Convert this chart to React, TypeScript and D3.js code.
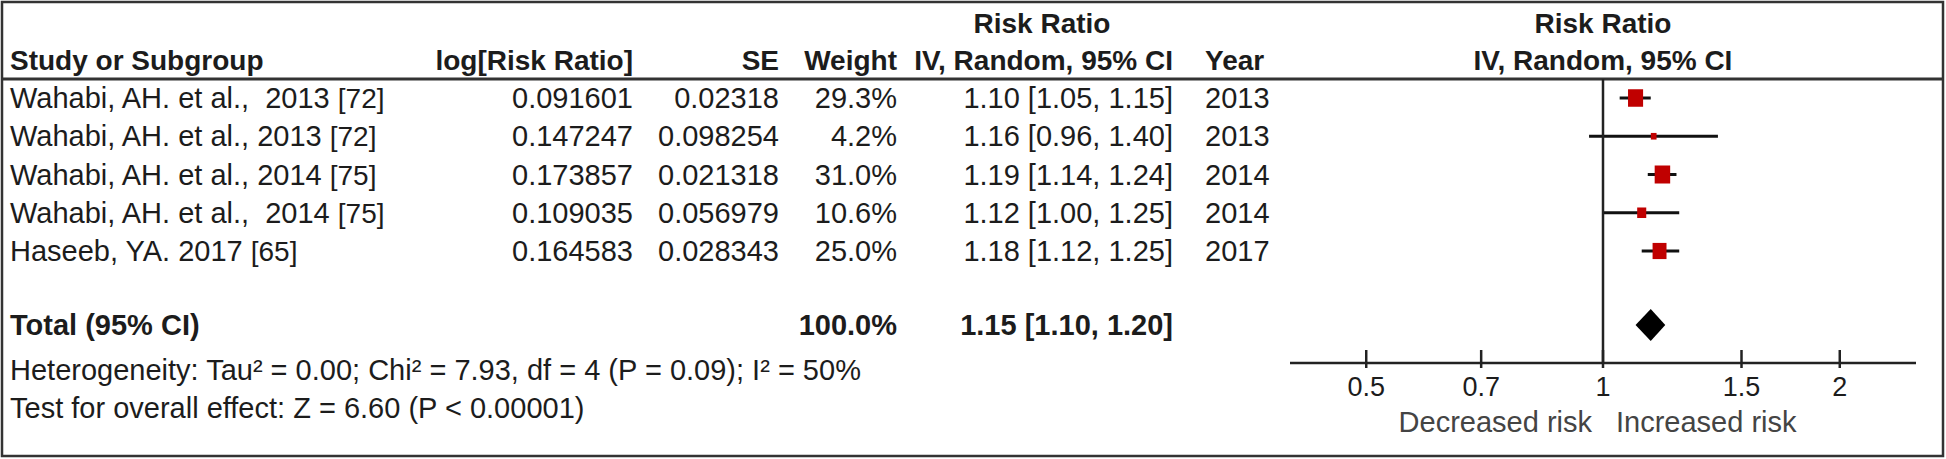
import React from 'react';
import * as d3 from 'd3';

// study rows
const studies = [
  'Wahabi, AH. et al.,  2013',
  'Wahabi, AH. et al., 2013',
  'Wahabi, AH. et al., 2014',
  'Wahabi, AH. et al.,  2014',
  'Haseeb, YA. 2017',
];
const refs = ['[72]', '[72]', '[75]', '[75]', '[65]'];
const logRR = ['0.091601', '0.147247', '0.173857', '0.109035', '0.164583'];
const seVals = ['0.02318', '0.098254', '0.021318', '0.056979', '0.028343'];
const weights = [29.3, 4.2, 31.0, 10.6, 25.0];
const rr = [1.1, 1.16, 1.19, 1.12, 1.18];
const lower = [1.05, 0.96, 1.14, 1.0, 1.12];
const upper = [1.15, 1.4, 1.24, 1.25, 1.25];
const years = ['2013', '2013', '2014', '2014', '2017'];

// pooled estimate
const totalRR = 1.15;
const totalLower = 1.1;
const totalUpper = 1.2;

const axisTicks = [0.5, 0.7, 1, 1.5, 2];

const FONT = '"Liberation Sans", Arial, sans-serif';
const INK = '#1c1c1c';
const FS = 29;
const HFS = 28;

const fmt2 = d3.format('.2f');

const App = () => {
  const x = d3.scaleLog().domain([0.4, 2.5]).range([1290, 1916]);
  const y = d3.scaleLinear().domain([0, studies.length - 1]).range([98, 251]);
  const boxW = d3.scaleSqrt().domain([0, 31]).range([0, 15.5]);
  const boxH = d3.scaleSqrt().domain([0, 31]).range([0, 18]);

  const totalY = 325;
  const axisY = 363;
  const dy = 10; // baseline offset from row centre

  const txt = (props, children) => (
    <text fontFamily={FONT} fontSize={FS} fill={INK} {...props}>{children}</text>
  );
  const head = (props, children) => txt({fontSize: HFS, fontWeight: 'bold', ...props}, children);

  return (
    <svg width={1946} height={459} style={{position: 'absolute', left: 0, top: 0, background: '#fff'}}>
      <rect x={2} y={2} width={1941} height={454} fill="#fff" stroke="#333" strokeWidth={2.5} />

      {/* headers */}
      {head({x: 1042, y: 33, textAnchor: 'middle'}, 'Risk Ratio')}
      {head({x: x(1), y: 33, textAnchor: 'middle'}, 'Risk Ratio')}
      {head({x: 10, y: 70}, 'Study or Subgroup')}
      {head({x: 633, y: 70, textAnchor: 'end'}, 'log[Risk Ratio]')}
      {head({x: 779, y: 70, textAnchor: 'end'}, 'SE')}
      {head({x: 897, y: 70, textAnchor: 'end'}, 'Weight')}
      {head({x: 1173, y: 70, textAnchor: 'end'}, 'IV, Random, 95% CI')}
      {head({x: 1205, y: 70}, 'Year')}
      {head({x: x(1), y: 70, textAnchor: 'middle'}, 'IV, Random, 95% CI')}
      <line x1={2} x2={1944} y1={79} y2={79} stroke="#333" strokeWidth={3} />

      {/* study rows */}
      {studies.map((s, i) => (
        <g key={i}>
          <text x={10} y={y(i) + dy} fontFamily={FONT} fontSize={FS} fill={INK} style={{whiteSpace: 'pre'}}>
            {s + ' '}<tspan fontSize={28}>{refs[i]}</tspan>
          </text>
          {txt({x: 633, y: y(i) + dy, textAnchor: 'end'}, logRR[i])}
          {txt({x: 779, y: y(i) + dy, textAnchor: 'end'}, seVals[i])}
          {txt({x: 897, y: y(i) + dy, textAnchor: 'end'}, weights[i].toFixed(1) + '%')}
          {txt({x: 1173, y: y(i) + dy, textAnchor: 'end'},
            `${fmt2(rr[i])} [${fmt2(lower[i])}, ${fmt2(upper[i])}]`)}
          {txt({x: 1205, y: y(i) + dy}, years[i])}

          <line x1={x(lower[i])} x2={x(upper[i])} y1={y(i)} y2={y(i)} stroke="#111" strokeWidth={3} />
          <rect
            x={x(rr[i]) - boxW(weights[i]) / 2}
            y={y(i) - boxH(weights[i]) / 2}
            width={boxW(weights[i])}
            height={boxH(weights[i])}
            fill="#c00000"
          />
        </g>
      ))}

      {/* total */}
      {head({x: 10, y: totalY + dy, fontSize: FS}, 'Total (95% CI)')}
      {head({x: 897, y: totalY + dy, textAnchor: 'end', fontSize: FS}, '100.0%')}
      {head({x: 1173, y: totalY + dy, textAnchor: 'end', fontSize: FS},
        `${fmt2(totalRR)} [${fmt2(totalLower)}, ${fmt2(totalUpper)}]`)}
      <path
        d={`M${x(totalLower)},${totalY} L${x(totalRR)},${totalY - 16} L${x(totalUpper)},${totalY} L${x(totalRR)},${totalY + 16} Z`}
        fill="#000"
      />

      {txt({x: 10, y: 380}, 'Heterogeneity: Tau² = 0.00; Chi² = 7.93, df = 4 (P = 0.09); I² = 50%')}
      {txt({x: 10, y: 418}, 'Test for overall effect: Z = 6.60 (P < 0.00001)')}

      {/* forest axis */}
      <line x1={x(1)} x2={x(1)} y1={79} y2={axisY} stroke="#222" strokeWidth={2.5} />
      <line x1={x.range()[0]} x2={x.range()[1]} y1={axisY} y2={axisY} stroke="#222" strokeWidth={2.5} />
      {axisTicks.map(t => (
        <g key={t}>
          <line x1={x(t)} x2={x(t)} y1={axisY - 13} y2={axisY + 5} stroke="#222" strokeWidth={2.5} />
          {txt({x: x(t), y: 396, textAnchor: 'middle', fontSize: 27}, String(t))}
        </g>
      ))}
      {txt({x: x(1) - 11, y: 432, textAnchor: 'end', fill: '#444'}, 'Decreased risk')}
      {txt({x: x(1) + 13, y: 432, fill: '#444'}, 'Increased risk')}
    </svg>
  );
};

export default App;
